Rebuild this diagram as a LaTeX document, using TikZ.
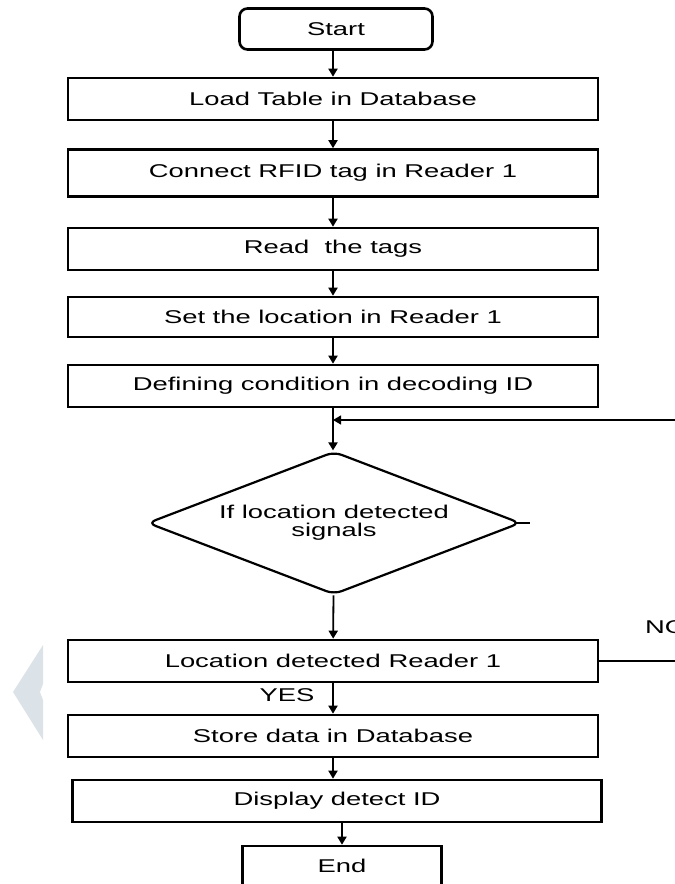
\documentclass[tikz,border=0pt]{standalone}
\usepackage{fontspec}
\setmainfont{Liberation Sans}[FakeStretch=1.48]
\usetikzlibrary{shapes.geometric,arrows.meta}

\begin{document}
\begin{tikzpicture}[x=1pt,y=-1pt,
  box/.style={draw=black,line width=2.6pt,rectangle,inner sep=0pt,minimum width=530pt,minimum height=42pt,font=\fontsize{18.5}{21}\selectfont},
  term/.style={box,rounded corners=8pt,minimum width=193pt,minimum height=41pt},
  cond/.style={draw=black,line width=2.2pt,diamond,aspect=2.6,inner sep=0pt,minimum width=373pt,minimum height=143pt,rounded corners=8pt,align=center,font=\fontsize{18.5}{18}\selectfont},
  lbl/.style={inner sep=0pt,font=\fontsize{18.5}{21}\selectfont},
  flow/.style={line width=1.8pt,-{Triangle[length=8pt,width=9pt]}},
  backline/.style={line width=1.2pt},
  wmark/.style={fill={rgb,255:red,220;green,227;blue,232}}]
\useasboundingbox (0,0) rectangle (675,884);
\clip (0,0) rectangle (675,884);
% watermark
\fill[wmark] (43,645) -- (13,692) -- (43,740) -- (43,700) -- (40,692) -- (43,684) -- cycle;
% steps
\node[term] (start) at (336,29) {Start};
\node[box] (load) at (333,99) {Load Table in Database};
\node[box,minimum height=47pt] (connect) at (333,173) {Connect RFID tag in Reader 1};
\node[box] (read) at (333,249) {Read\ \ the tags};
\node[box,minimum height=40pt] (setloc) at (333,317) {Set the location in Reader 1};
\node[box] (define) at (333,386) {Defining condition in decoding ID};
\coordinate (merge) at (333,420);
\node[cond] (check) at (334,523) {If location detected\\signals};
\coordinate (stub) at (530,523);
\node[box] (found) at (333,661) {Location detected Reader 1};
\node[box] (store) at (333,736) {Store data in Database};
\node[box,minimum width=529pt] (display) at (337,801) {Display detect ID};
\node[box,minimum width=199pt,minimum height=40pt] (end) at (342,866) {End};
\node[lbl] (yes) at (287,695) {YES};
\node[lbl,anchor=west] (no) at (645,627) {NO};
\coordinate (fbin) at (675,420);
\coordinate (noout) at (675,661);
% connectors
\draw[flow] (load.north |- start.south) -- (load.north);
\foreach \a/\b in {load/connect,connect/read,read/setloc,setloc/define}
  \draw[flow] (\a) -- (\b);
\draw[flow] (define.south) -- (define.south |- check.north);
\draw[backline,-{Triangle[length=8pt,width=9pt]}] (fbin) -- (merge);
\draw[backline,shorten <=-6pt] (check.east) -- (stub);
\draw[flow] (check) -- (found);
\draw[backline] (found) -- (noout);
\draw[flow] (found) -- (store);
\draw[flow] (store.south) -- (store.south |- display.north);
\draw[flow] (end.north |- display.south) -- (end.north);
\end{tikzpicture}
\end{document}
